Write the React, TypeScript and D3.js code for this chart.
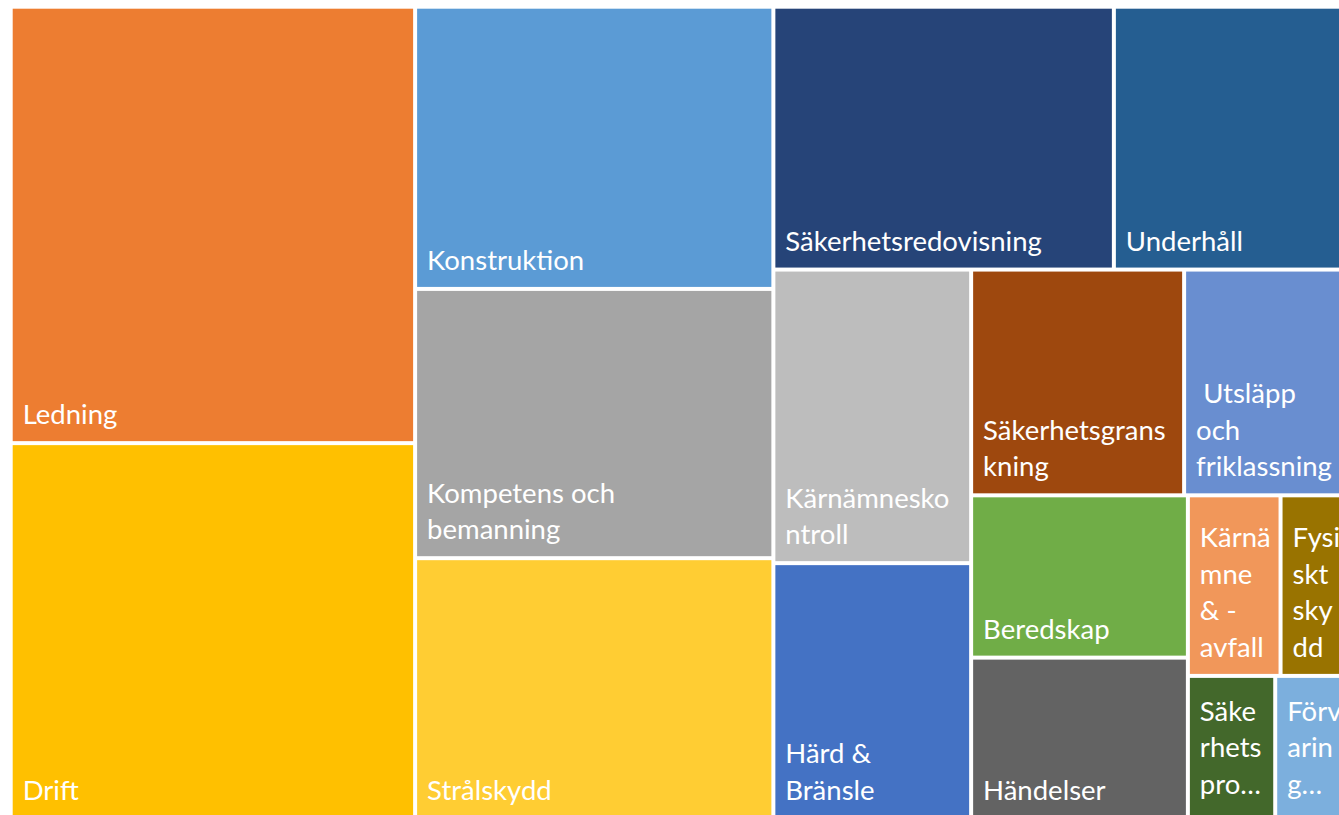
import React from "react";
import * as d3 from "d3";

const WIDTH = 1339;
const HEIGHT = 815;
// the treemap frame runs a little past the right edge, like the source screenshot
const FRAME = { left: 12.7, top: 8.7, right: 1350, bottom: 817 };
const LINE_H = 36.5;

const CATEGORIES = [
  "Ledning",
  "Drift",
  "Konstruktion",
  "Kompetens och bemanning",
  "Strålskydd",
  "Säkerhetsredovisning",
  "Underhåll",
  "Kärnämneskontroll",
  "Härd & Bränsle",
  "Säkerhetsgranskning",
  "Utsläpp och friklassning",
  "Beredskap",
  "Händelser",
  "Kärnämne & -avfall",
  "Fysiskt skydd",
  "Säkerhetspro…",
  "Förvaring…",
];

const VALUES = [
  175.1, 150.8, 100.3, 95.7, 92.7, 88.8, 62.1, 57.6, 50.2, 47.7, 37.6, 34.9,
  34.7, 16.6, 12.8, 12.4, 10.9,
];

const COLORS = [
  "#ED7D31",
  "#FFC000",
  "#5B9BD5",
  "#A5A5A5",
  "#FFCD33",
  "#264478",
  "#255E91",
  "#BDBDBD",
  "#4472C4",
  "#9E480E",
  "#698ED0",
  "#70AD47",
  "#636363",
  "#F1975A",
  "#997300",
  "#43682B",
  "#7CAFDD",
];

// labels as they wrap inside the tiles
const LABELS = [
  "Ledning",
  "Drift",
  "Konstruktion",
  "Kompetens och\nbemanning",
  "Strålskydd",
  "Säkerhetsredovisning",
  "Underhåll",
  "Kärnämnesko\nntroll",
  "Härd &\nBränsle",
  "Säkerhetsgrans\nkning",
  " Utsläpp\noch\nfriklassning",
  "Beredskap",
  "Händelser",
  "Kärnä\nmne\n& -\navfall",
  "Fysi\nskt\nsky\ndd",
  "Säke\nrhets\npro…",
  "Förv\narin\ng…",
];

// strips of the layout: tiles per strip and the way each strip runs
const ROW_SIZES = [2, 3, 2, 2, 2, 2, 2, 2];
const ROW_DIRS = ["col", "col", "row", "col", "row", "col", "row", "row"];

// tiles the sorted leaves strip by strip, like Excel's treemap does
function stripTile(node: any, x0: number, y0: number, x1: number, y1: number) {
  const kids = node.children;
  let value = node.value;
  let i = 0;
  ROW_SIZES.forEach((n, r) => {
    const children = kids.slice(i, i + n);
    const sum = d3.sum(children, (c: any) => c.value);
    const strip: any = { children, value: sum };
    if (ROW_DIRS[r] === "row") {
      const yb = y0 + ((y1 - y0) * sum) / value;
      d3.treemapDice(strip, x0, y0, x1, yb);
      y0 = yb;
    } else {
      const xb = x0 + ((x1 - x0) * sum) / value;
      d3.treemapSlice(strip, x0, y0, xb, y1);
      x0 = xb;
    }
    value -= sum;
    i += n;
  });
}

export default function App() {
  const data = {
    name: "root",
    children: CATEGORIES.map((name, i) => ({
      name,
      value: VALUES[i],
      color: COLORS[i],
      label: LABELS[i],
    })),
  };

  const root = d3.hierarchy<any>(data).sum((d) => d.value ?? 0);
  d3
    .treemap<any>()
    .tile(stripTile as any)
    .size([FRAME.right - FRAME.left, FRAME.bottom - FRAME.top])
    .paddingInner(4)(root);

  const leaves = root.leaves() as any[];

  return (
    <svg
      width={WIDTH}
      height={HEIGHT}
      style={{ position: "absolute", left: 0, top: 0, background: "#ffffff" }}
    >
      <defs>
        {leaves.map((leaf, i) => (
          <clipPath key={i} id={`tile-clip-${i}`}>
            <rect
              x={leaf.x0}
              y={leaf.y0}
              width={leaf.x1 - leaf.x0}
              height={leaf.y1 - leaf.y0}
            />
          </clipPath>
        ))}
      </defs>
      <g transform={`translate(${FRAME.left}, ${FRAME.top})`}>
        {leaves.map((leaf, i) => {
          const lines: string[] = leaf.data.label.split("\n");
          const truncated = lines[lines.length - 1].endsWith("…");
          // labels sit at the bottom left; cut-off ones start from the top
          const firstBase = truncated
            ? leaf.y0 + 43
            : leaf.y1 - 17 - (lines.length - 1) * LINE_H;
          return (
            <g key={leaf.data.name}>
              <rect
                x={leaf.x0}
                y={leaf.y0}
                width={leaf.x1 - leaf.x0}
                height={leaf.y1 - leaf.y0}
                fill={leaf.data.color}
              />
              <text
                clipPath={`url(#tile-clip-${i})`}
                fill="#ffffff"
                fontFamily="Lato, 'Open Sans', sans-serif"
                fontSize={27.5}
                style={{ whiteSpace: "pre" }}
              >
                {lines.map((line, j) => (
                  <tspan key={j} x={leaf.x0 + 10} y={firstBase + j * LINE_H}>
                    {line}
                  </tspan>
                ))}
              </text>
            </g>
          );
        })}
      </g>
    </svg>
  );
}
